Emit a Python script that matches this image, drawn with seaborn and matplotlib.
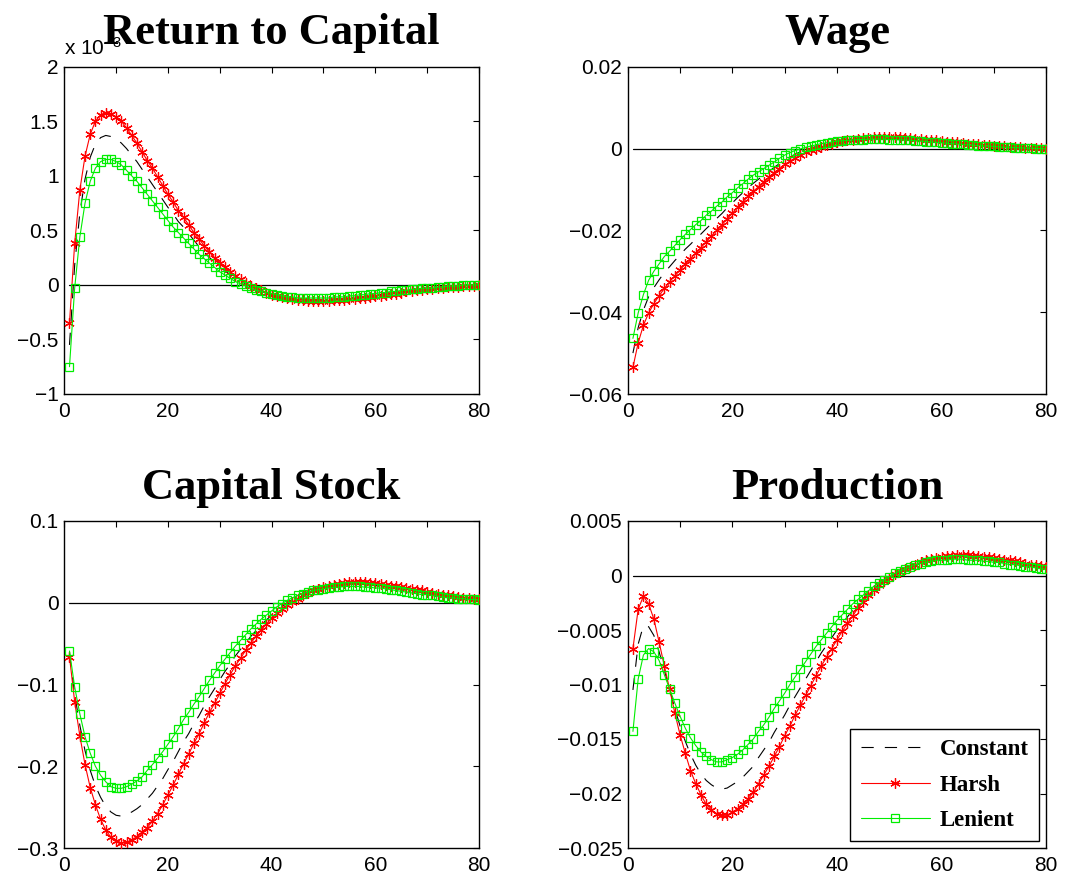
import numpy as np
import pandas as pd
import matplotlib
matplotlib.use("Agg")
import matplotlib.pyplot as plt
import seaborn as sns
from matplotlib.ticker import FuncFormatter, MultipleLocator
from matplotlib.lines import Line2D

# ---------------- data ----------------
periods = list(range(1, 81))

titles = ["Return to Capital", "Wage", "Capital Stock", "Production"]
series_names = ["Constant", "Harsh", "Lenient"]

# Return to Capital (units of 1e-3)
ret_constant = [-0.55, 0.18, 0.66, 0.97, 1.17, 1.29, 1.35, 1.37, 1.36, 1.34,
                1.30, 1.25, 1.19, 1.13, 1.06, 0.99, 0.92, 0.85, 0.78, 0.71,
                0.65, 0.58, 0.53, 0.47, 0.41, 0.35, 0.30, 0.25, 0.21, 0.16,
                0.13, 0.09, 0.06, 0.03, 0.01, -0.02, -0.04, -0.06, -0.07, -0.09,
                -0.10, -0.11, -0.12, -0.12, -0.13, -0.13, -0.14, -0.14, -0.14, -0.14,
                -0.14, -0.13, -0.13, -0.13, -0.12, -0.12, -0.11, -0.11, -0.10, -0.09,
                -0.09, -0.08, -0.07, -0.07, -0.06, -0.06, -0.05, -0.05, -0.04, -0.04,
                -0.04, -0.03, -0.03, -0.02, -0.02, -0.02, -0.01, -0.01, -0.01, 0.00]
ret_harsh = [-0.35, 0.38, 0.87, 1.18, 1.38, 1.50, 1.56, 1.58, 1.57, 1.54,
             1.50, 1.44, 1.37, 1.30, 1.22, 1.14, 1.07, 0.99, 0.91, 0.83,
             0.76, 0.68, 0.62, 0.55, 0.48, 0.42, 0.36, 0.30, 0.25, 0.20,
             0.16, 0.12, 0.08, 0.05, 0.02, -0.01, -0.03, -0.05, -0.07, -0.09,
             -0.10, -0.11, -0.12, -0.13, -0.14, -0.14, -0.15, -0.15, -0.15, -0.15,
             -0.15, -0.14, -0.14, -0.14, -0.13, -0.13, -0.12, -0.12, -0.11, -0.10,
             -0.10, -0.09, -0.08, -0.08, -0.07, -0.06, -0.06, -0.05, -0.05, -0.04,
             -0.04, -0.03, -0.03, -0.02, -0.02, -0.02, -0.01, -0.01, -0.01, 0.00]
ret_lenient = [-0.75, -0.03, 0.44, 0.75, 0.95, 1.07, 1.13, 1.15, 1.15, 1.13,
               1.10, 1.05, 1.00, 0.95, 0.89, 0.83, 0.77, 0.71, 0.65, 0.59,
               0.53, 0.48, 0.43, 0.38, 0.33, 0.28, 0.24, 0.20, 0.16, 0.12,
               0.09, 0.06, 0.03, 0.01, -0.01, -0.03, -0.05, -0.06, -0.07, -0.08,
               -0.09, -0.10, -0.11, -0.11, -0.12, -0.12, -0.12, -0.12, -0.12, -0.12,
               -0.12, -0.11, -0.11, -0.11, -0.10, -0.10, -0.09, -0.09, -0.08, -0.08,
               -0.07, -0.07, -0.06, -0.06, -0.05, -0.05, -0.04, -0.04, -0.03, -0.03,
               -0.03, -0.02, -0.02, -0.01, -0.01, -0.01, 0.00, 0.00, 0.00, 0.00]

# Wage
wage_constant = [-0.0500, -0.0438, -0.0395, -0.0362, -0.0340, -0.0321, -0.0303, -0.0289, -0.0274, -0.0260,
                 -0.0246, -0.0234, -0.0221, -0.0209, -0.0196, -0.0184, -0.0171, -0.0159, -0.0145, -0.0133,
                 -0.0120, -0.0108, -0.0096, -0.0085, -0.0075, -0.0065, -0.0056, -0.0046, -0.0037, -0.0028,
                 -0.0021, -0.0014, -0.0008, -0.0003, 0.0001, 0.0005, 0.0008, 0.0011, 0.0014, 0.0016,
                 0.0018, 0.0020, 0.0021, 0.0023, 0.0024, 0.0024, 0.0025, 0.0025, 0.0025, 0.0025,
                 0.0025, 0.0024, 0.0024, 0.0023, 0.0022, 0.0021, 0.0020, 0.0019, 0.0018, 0.0016,
                 0.0015, 0.0014, 0.0013, 0.0012, 0.0011, 0.0010, 0.0009, 0.0008, 0.0007, 0.0006,
                 0.0005, 0.0004, 0.0004, 0.0003, 0.0002, 0.0002, 0.0001, 0.0001, 0.0000, 0.0000]
wage_harsh = [-0.0535, -0.0475, -0.0432, -0.0402, -0.0379, -0.0360, -0.0342, -0.0326, -0.0311, -0.0297,
              -0.0282, -0.0269, -0.0255, -0.0242, -0.0228, -0.0214, -0.0200, -0.0186, -0.0172, -0.0158,
              -0.0144, -0.0130, -0.0117, -0.0105, -0.0093, -0.0081, -0.0070, -0.0059, -0.0049, -0.0039,
              -0.0031, -0.0023, -0.0016, -0.0009, -0.0004, 0.0000, 0.0004, 0.0008, 0.0012, 0.0015,
              0.0018, 0.0020, 0.0022, 0.0024, 0.0025, 0.0026, 0.0027, 0.0027, 0.0028, 0.0028,
              0.0027, 0.0027, 0.0026, 0.0025, 0.0024, 0.0023, 0.0022, 0.0021, 0.0020, 0.0018,
              0.0017, 0.0016, 0.0015, 0.0013, 0.0012, 0.0011, 0.0010, 0.0009, 0.0008, 0.0007,
              0.0006, 0.0005, 0.0004, 0.0004, 0.0003, 0.0002, 0.0002, 0.0001, 0.0001, 0.0000]
wage_lenient = [-0.0464, -0.0402, -0.0357, -0.0322, -0.0300, -0.0282, -0.0264, -0.0251, -0.0237, -0.0223,
                -0.0210, -0.0198, -0.0186, -0.0176, -0.0163, -0.0153, -0.0141, -0.0131, -0.0118, -0.0108,
                -0.0096, -0.0086, -0.0075, -0.0065, -0.0057, -0.0049, -0.0041, -0.0033, -0.0024, -0.0016,
                -0.0010, -0.0005, -0.0001, 0.0003, 0.0006, 0.0009, 0.0012, 0.0014, 0.0016, 0.0018,
                0.0019, 0.0020, 0.0021, 0.0022, 0.0022, 0.0023, 0.0023, 0.0023, 0.0023, 0.0022,
                0.0022, 0.0021, 0.0021, 0.0020, 0.0019, 0.0018, 0.0017, 0.0016, 0.0015, 0.0014,
                0.0013, 0.0012, 0.0011, 0.0010, 0.0009, 0.0008, 0.0007, 0.0006, 0.0006, 0.0005,
                0.0004, 0.0003, 0.0003, 0.0002, 0.0002, 0.0001, 0.0001, 0.0000, 0.0000, -0.0001]

# Capital Stock
cap_constant = [-0.063, -0.112, -0.150, -0.181, -0.205, -0.224, -0.238, -0.249, -0.256, -0.260,
                -0.261, -0.259, -0.256, -0.252, -0.247, -0.240, -0.233, -0.224, -0.215, -0.204,
                -0.194, -0.182, -0.170, -0.160, -0.148, -0.138, -0.126, -0.115, -0.105, -0.094,
                -0.084, -0.075, -0.065, -0.057, -0.049, -0.041, -0.034, -0.027, -0.021, -0.015,
                -0.009, -0.005, 0.000, 0.004, 0.007, 0.010, 0.013, 0.015, 0.017, 0.018,
                0.020, 0.021, 0.021, 0.022, 0.023, 0.023, 0.023, 0.022, 0.022, 0.021,
                0.021, 0.020, 0.019, 0.018, 0.017, 0.016, 0.015, 0.014, 0.013, 0.012,
                0.011, 0.010, 0.009, 0.008, 0.007, 0.006, 0.006, 0.005, 0.005, 0.004]
cap_harsh = [-0.066, -0.121, -0.163, -0.198, -0.226, -0.247, -0.265, -0.278, -0.287, -0.292,
             -0.294, -0.293, -0.290, -0.286, -0.281, -0.275, -0.267, -0.258, -0.247, -0.235,
             -0.223, -0.210, -0.197, -0.185, -0.172, -0.160, -0.147, -0.134, -0.123, -0.111,
             -0.099, -0.088, -0.077, -0.068, -0.058, -0.049, -0.041, -0.033, -0.026, -0.019,
             -0.013, -0.008, -0.003, 0.001, 0.005, 0.009, 0.012, 0.015, 0.017, 0.019,
             0.021, 0.022, 0.023, 0.024, 0.025, 0.025, 0.025, 0.025, 0.024, 0.024,
             0.023, 0.022, 0.021, 0.020, 0.019, 0.018, 0.017, 0.016, 0.015, 0.013,
             0.012, 0.011, 0.010, 0.009, 0.008, 0.007, 0.006, 0.006, 0.005, 0.004]
cap_lenient = [-0.059, -0.103, -0.136, -0.164, -0.184, -0.200, -0.211, -0.219, -0.225, -0.227,
               -0.227, -0.225, -0.222, -0.218, -0.213, -0.205, -0.198, -0.190, -0.182, -0.173,
               -0.164, -0.154, -0.143, -0.134, -0.124, -0.115, -0.105, -0.095, -0.086, -0.077,
               -0.069, -0.061, -0.053, -0.046, -0.039, -0.032, -0.026, -0.020, -0.015, -0.010,
               -0.005, -0.001, 0.003, 0.006, 0.009, 0.011, 0.013, 0.015, 0.016, 0.017,
               0.018, 0.019, 0.019, 0.020, 0.020, 0.020, 0.020, 0.019, 0.019, 0.018,
               0.018, 0.017, 0.016, 0.015, 0.014, 0.013, 0.012, 0.011, 0.010, 0.010,
               0.009, 0.008, 0.007, 0.006, 0.006, 0.005, 0.005, 0.004, 0.004, 0.003]

# Production
prod_constant = [-0.0105, -0.0063, -0.0046, -0.0047, -0.0055, -0.0070, -0.0087, -0.0104, -0.0122, -0.0138,
                 -0.0152, -0.0164, -0.0174, -0.0182, -0.0188, -0.0192, -0.0195, -0.0196, -0.0195, -0.0192,
                 -0.0189, -0.0185, -0.0180, -0.0175, -0.0167, -0.0160, -0.0153, -0.0144, -0.0136, -0.0128,
                 -0.0119, -0.0111, -0.0103, -0.0095, -0.0087, -0.0079, -0.0071, -0.0064, -0.0057, -0.0050,
                 -0.0044, -0.0038, -0.0032, -0.0026, -0.0021, -0.0016, -0.0012, -0.0008, -0.0005, -0.0002,
                 0.0002, 0.0004, 0.0006, 0.0008, 0.0010, 0.0012, 0.0013, 0.0014, 0.0015, 0.0016,
                 0.0016, 0.0017, 0.0017, 0.0017, 0.0017, 0.0016, 0.0016, 0.0015, 0.0015, 0.0014,
                 0.0014, 0.0013, 0.0012, 0.0012, 0.0011, 0.0010, 0.0009, 0.0009, 0.0008, 0.0007]
prod_harsh = [-0.0067, -0.0031, -0.0019, -0.0026, -0.0040, -0.0061, -0.0083, -0.0104, -0.0126, -0.0146,
              -0.0163, -0.0179, -0.0191, -0.0201, -0.0210, -0.0215, -0.0219, -0.0220, -0.0220, -0.0217,
              -0.0214, -0.0210, -0.0205, -0.0199, -0.0191, -0.0183, -0.0175, -0.0166, -0.0157, -0.0147,
              -0.0138, -0.0128, -0.0119, -0.0110, -0.0101, -0.0092, -0.0083, -0.0075, -0.0067, -0.0059,
              -0.0051, -0.0044, -0.0037, -0.0030, -0.0024, -0.0018, -0.0013, -0.0009, -0.0005, -0.0002,
              0.0001, 0.0003, 0.0006, 0.0008, 0.0010, 0.0012, 0.0014, 0.0015, 0.0016, 0.0017,
              0.0018, 0.0018, 0.0019, 0.0019, 0.0019, 0.0018, 0.0018, 0.0017, 0.0017, 0.0016,
              0.0015, 0.0014, 0.0014, 0.0013, 0.0012, 0.0011, 0.0010, 0.0010, 0.0009, 0.0008]
prod_lenient = [-0.0143, -0.0095, -0.0073, -0.0067, -0.0070, -0.0078, -0.0091, -0.0104, -0.0117, -0.0129,
                -0.0140, -0.0149, -0.0156, -0.0162, -0.0166, -0.0169, -0.0171, -0.0171, -0.0169, -0.0167,
                -0.0164, -0.0160, -0.0155, -0.0150, -0.0143, -0.0137, -0.0130, -0.0122, -0.0115, -0.0108,
                -0.0100, -0.0093, -0.0086, -0.0079, -0.0072, -0.0065, -0.0059, -0.0053, -0.0047, -0.0041,
                -0.0036, -0.0031, -0.0026, -0.0022, -0.0018, -0.0014, -0.0010, -0.0007, -0.0004, -0.0001,
                0.0002, 0.0004, 0.0006, 0.0008, 0.0010, 0.0011, 0.0012, 0.0013, 0.0014, 0.0014,
                0.0014, 0.0015, 0.0015, 0.0015, 0.0014, 0.0014, 0.0014, 0.0013, 0.0013, 0.0012,
                0.0012, 0.0011, 0.0010, 0.0010, 0.0009, 0.0008, 0.0008, 0.0007, 0.0006, 0.0006]

ylims = [(-1, 2), (-0.06, 0.02), (-0.3, 0.1), (-0.025, 0.005)]
ysteps = [0.5, 0.02, 0.1, 0.005]
x_ticks = [0, 10, 20, 30, 40, 50, 60, 70, 80]
x_ticklabels = ["0", "", "20", "", "40", "", "60", "", "80"]

# ---------------- style ----------------
sns.set_theme(style="white")
plt.rcParams["font.family"] = ["Liberation Sans", "DejaVu Sans"]
plt.rcParams["mathtext.default"] = "regular"
plt.rcParams["axes.unicode_minus"] = True
plt.rcParams["text.color"] = "black"
plt.rcParams["axes.labelcolor"] = "black"
plt.rcParams["axes.titlecolor"] = "black"
plt.rcParams["xtick.color"] = "black"
plt.rcParams["ytick.color"] = "black"

C_BLACK = "#000000"
C_RED = "#FF0000"
C_GREEN = "#00EE00"

W, H = 1074, 883
fig = plt.figure(figsize=(W / 100, H / 100), dpi=100)
fig.patch.set_facecolor("white")

rects_px = [(64.3, 66.7, 479.0, 394.0), (627.7, 66.7, 1046.3, 394.0),
            (64.3, 521.0, 479.0, 848.0), (627.7, 521.0, 1046.3, 848.0)]

panels = [
    (ret_constant, ret_harsh, ret_lenient),
    (wage_constant, wage_harsh, wage_lenient),
    (cap_constant, cap_harsh, cap_lenient),
    (prod_constant, prod_harsh, prod_lenient),
]


def fmt(v, pos):
    s = f"{v:.6g}"
    if abs(v) < 1e-12:
        s = "0"
    return s.replace("-", "\u2212")


axes = []
for i, (l, t, r, b) in enumerate(rects_px):
    ax = fig.add_axes([l / W, (H - b) / H, (r - l) / W, (b - t) / H])
    axes.append(ax)
    const, harsh, len_ = panels[i]
    df = pd.DataFrame({"t": periods, "Constant": const, "Harsh": harsh, "Lenient": len_})

    ax.axhline(0, xmin=1 / 80, xmax=1.0, color="black", lw=0.9, zorder=1)

    sns.lineplot(data=df, x="t", y="Constant", ax=ax, color=C_BLACK, lw=0.8,
                 linestyle=(0, (11, 10)), label="Constant", legend=False, zorder=2)
    sns.lineplot(data=df, x="t", y="Harsh", ax=ax, color=C_RED, lw=0.8,
                 marker=(6, 2, 0), markersize=7.5, markeredgecolor=C_RED,
                 markeredgewidth=0.9, label="Harsh", legend=False, zorder=3)
    sns.lineplot(data=df, x="t", y="Lenient", ax=ax, color=C_GREEN, lw=0.8,
                 marker="s", markersize=6, markerfacecolor="none",
                 markeredgecolor=C_GREEN, markeredgewidth=0.9,
                 label="Lenient", legend=False, zorder=4)

    ax.set_xlim(0, 80)
    ax.set_ylim(*ylims[i])
    ax.set_xticks(x_ticks)
    ax.set_xticklabels(x_ticklabels)
    ax.yaxis.set_major_locator(MultipleLocator(ysteps[i]))
    ax.yaxis.set_major_formatter(FuncFormatter(fmt))
    ax.set_xlabel("")
    ax.set_ylabel("")
    ax.tick_params(axis="both", which="both", direction="in", length=4, width=0.8,
                   top=True, right=True, labelsize=15, colors="black")
    ax.tick_params(axis="x", pad=6)
    ax.tick_params(axis="y", pad=4)
    for sp in ax.spines.values():
        sp.set_visible(True)
        sp.set_color("black")
        sp.set_linewidth(1.0)
    ax.set_facecolor("white")
    ax.grid(False)
    ax.set_title(titles[i], fontsize=32, fontweight="bold", color="black",
                 family=["Liberation Serif", "DejaVu Serif"], pad=16)

# exponent label of the first panel (partly hidden behind the title, as in the original)
axes[0].text(0.0, 1.036, "x 10$^{-3}$", transform=axes[0].transAxes,
             ha="left", va="baseline", fontsize=15, color="black", zorder=0)

# legend in the Production panel
handles = [
    Line2D([], [], color=C_BLACK, lw=0.8, linestyle=(0, (11, 10))),
    Line2D([], [], color=C_RED, lw=0.8, marker=(6, 2, 0), markersize=7.5,
           markeredgecolor=C_RED, markeredgewidth=0.9),
    Line2D([], [], color=C_GREEN, lw=0.8, marker="s", markersize=6,
           markerfacecolor="none", markeredgecolor=C_GREEN, markeredgewidth=0.9),
]
leg = axes[3].legend(handles, series_names, loc="lower right",
                     bbox_to_anchor=(0.983, 0.021), borderaxespad=0,
                     frameon=True, fancybox=False, shadow=False,
                     handlelength=3.0, handletextpad=0.45, labelspacing=0.62,
                     borderpad=0.45, markerscale=1.0,
                     prop={"family": ["Liberation Serif", "DejaVu Serif"],
                           "weight": "bold", "size": 16.5})
for txt in leg.get_texts():
    txt.set_color("black")
leg.get_frame().set_edgecolor("black")
leg.get_frame().set_linewidth(1.0)
leg.get_frame().set_alpha(1.0)

fig.savefig("out.png", dpi=100, facecolor="white")
